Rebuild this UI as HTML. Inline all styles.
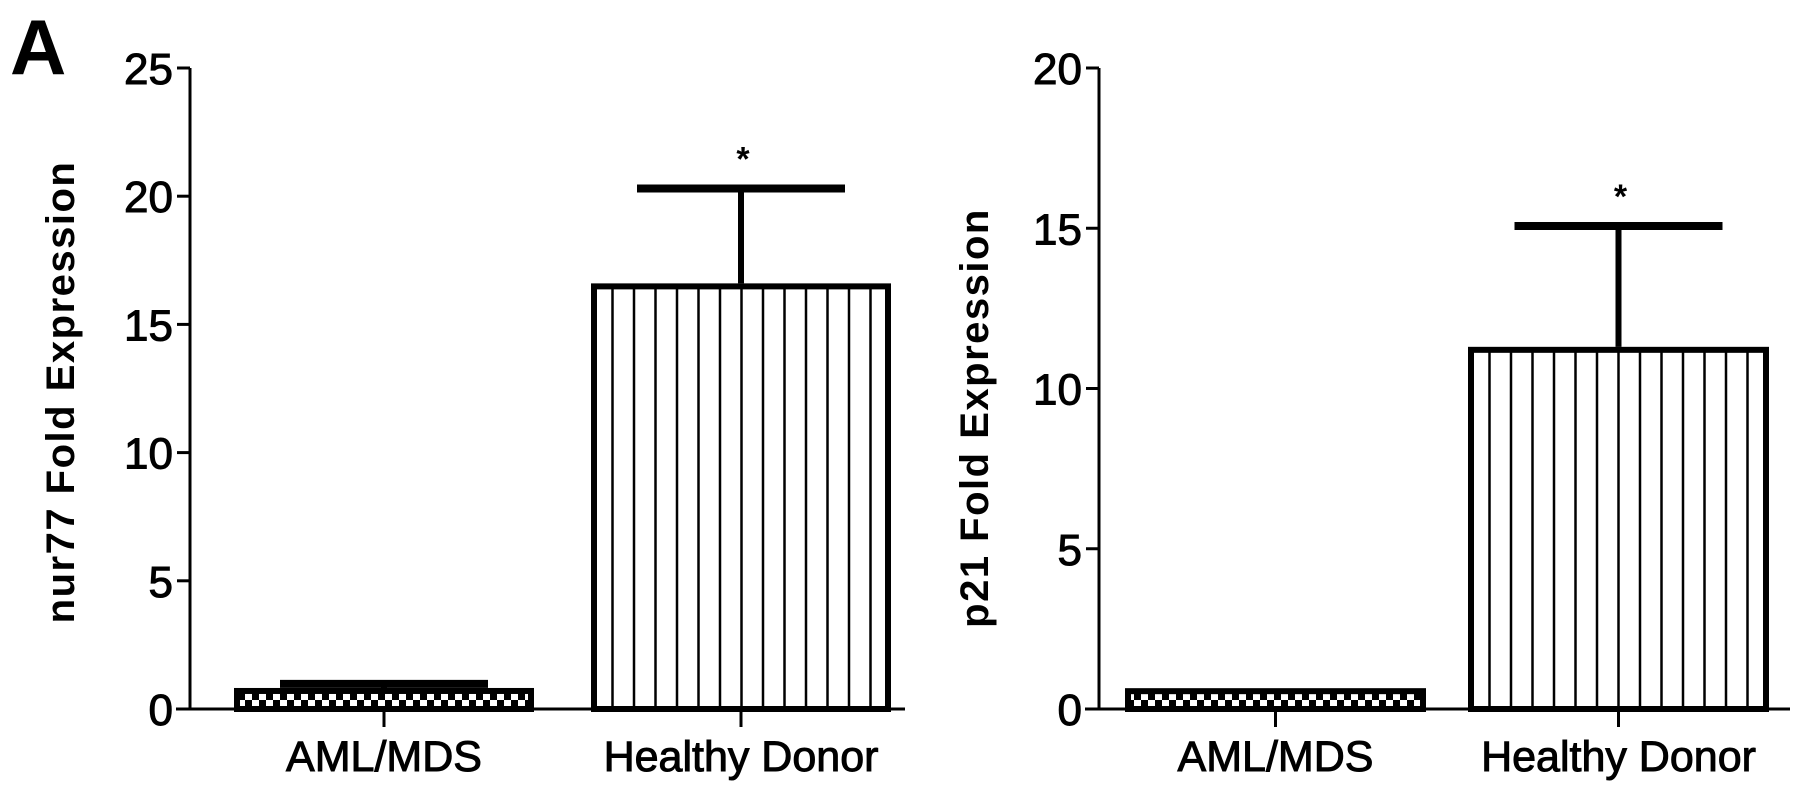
<!DOCTYPE html>
<html><head><meta charset="utf-8"><style>
html,body{margin:0;padding:0;background:#fff;}
svg{display:block;font-family:"Liberation Sans",Arial,sans-serif;}
</style></head><body>
<svg id="fig" width="1795" height="793" viewBox="0 0 1795 793">
<defs>
<pattern id="checker" width="14" height="14" patternUnits="userSpaceOnUse">
<rect width="14" height="14" fill="#000"/>
<rect x="0" y="0" width="7" height="7" fill="#fff"/>
<rect x="7" y="7" width="7" height="7" fill="#fff"/>
</pattern>
</defs>
<text x="10" y="74" font-size="78" font-weight="bold">A</text>
</svg>
<script>
const categories = ["AML/MDS", "Healthy Donor"];
const nur77Values = [0.82, 16.6];
const nur77Errors = [0.98, 20.3];
const nur77Ticks = [0, 5, 10, 15, 20, 25];
const p21Values = [0.65, 11.3];
const p21Errors = [0.65, 15.07];
const p21Ticks = [0, 5, 10, 15, 20];

const NS = "http://www.w3.org/2000/svg";
const svg = document.getElementById('fig');
function mk(tag, attrs, parent){
  const e = document.createElementNS(NS, tag);
  for (const k in attrs) e.setAttribute(k, attrs[k]);
  (parent||svg).appendChild(e);
  return e;
}
function drawChart(cfg){
  const g = mk('g', {});
  
  
  const y0 = 709, yTop = 68;
  const yMax = cfg.ticks[cfg.ticks.length-1];
  const y = v => y0 - (v / yMax) * (y0 - yTop);
  const ya = mk('line', {x1:cfg.axisX, y1:yTop, x2:cfg.axisX, y2:y0, stroke:'#000','stroke-width':3}, g);
  
  
  const xa = mk('line', {x1:cfg.axisX-14, y1:y0, x2:cfg.axisEnd, y2:y0, stroke:'#000','stroke-width':3}, g);
  
  
  cfg.ticks.forEach(t => {
    const yy = y(t);
    const tl = mk('line', {x1:cfg.axisX-13, y1:yy, x2:cfg.axisX, y2:yy, stroke:'#000','stroke-width':3}, g);
    
    
    const tx = mk('text', {x:cfg.axisX-17, y:yy+16, 'font-size':44, 'text-anchor':'end', stroke:'#000', 'stroke-width':1}, g);
    tx.textContent = t;
    
    
  });
  const yt = mk('text', {x:0, y:0, 'font-size':40, 'font-weight':'bold', 'text-anchor':'middle', 'letter-spacing':'1.5',
    transform:`translate(${cfg.titleX},${cfg.titleY}) rotate(-90)`}, g);
  yt.textContent = cfg.title;
  
  
  categories.forEach((c, i) => {
    const x1 = cfg.barX[i], x2 = x1 + cfg.barW, cx = (x1 + x2) / 2;
    const v = cfg.values[i], e = cfg.errors[i];
    const top = y(v);
    if (e > v) {
      const el = mk('line', {x1:cx, y1:y(e), x2:cx, y2:top, stroke:'#000','stroke-width':6}, g);
      
      
      const cap = mk('line', {x1:cx-104, y1:y(e), x2:cx+104, y2:y(e), stroke:'#000','stroke-width':8}, g);
      
      
    }
    const bar = mk('rect', {x:x1+3, y:top+3, width:cfg.barW-6, height:y0-top-3,
      fill: i === 0 ? 'url(#checker)' : '#fff', stroke:'#000','stroke-width':6}, g);
    
    
    if (i === 1) {
      for (let lx = x1 + 21.5; lx < x2 - 8; lx += 21.5) {
        const hl = mk('line', {x1:lx, y1:top+4, x2:lx, y2:y0, stroke:'#000','stroke-width':2.5}, g);
        
        
      }
      const st = mk('text', {x:cx+2, y:y(e)-18, 'font-size':34, 'font-weight':'bold', 'text-anchor':'middle'}, g);
      st.textContent = '*';
      
      
    }
    const xt = mk('line', {x1:cx, y1:y0, x2:cx, y2:y0+18, stroke:'#000','stroke-width':3}, g);
    
    
    const lab = mk('text', {x:cx, y:y0+62, 'font-size':43, 'text-anchor':'middle', stroke:'#000', 'stroke-width':1}, g);
    lab.textContent = c;
    
    
  });
}
drawChart({name:'nur77-chart', axisX:190, axisEnd:905, ticks:nur77Ticks, values:nur77Values, errors:nur77Errors,
  barX:[234, 591], barW:300, title:'nur77 Fold Expression', titleX:74, titleY:392});
drawChart({name:'p21-chart', axisX:1099, axisEnd:1790, ticks:p21Ticks, values:p21Values, errors:p21Errors,
  barX:[1125, 1468], barW:301, title:'p21 Fold Expression', titleX:988, titleY:418});
</script>
</body></html>
